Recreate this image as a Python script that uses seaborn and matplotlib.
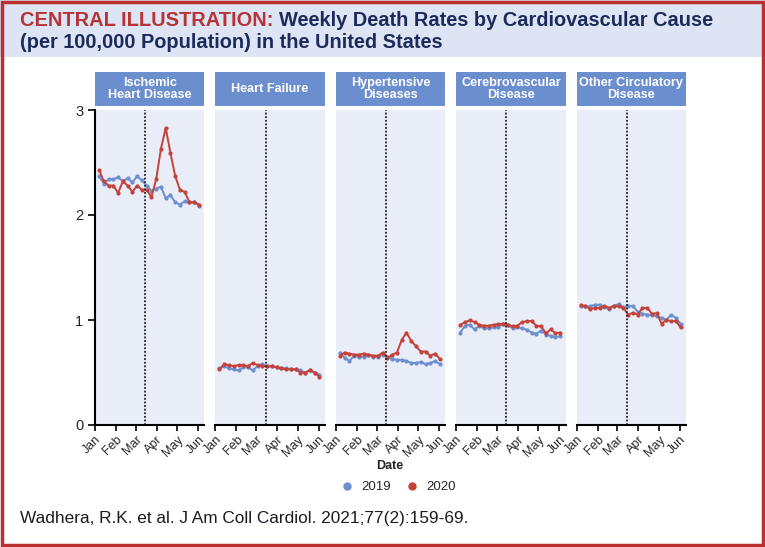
import pandas as pd
import seaborn as sns
import matplotlib.pyplot as plt
from matplotlib.patches import Rectangle
import numpy as np

# weekly death rates per 100,000
weeks = pd.date_range('2020-01-07', periods=22, freq='7D')
causes = ['Ischemic\nHeart Disease', 'Heart Failure', 'Hypertensive\nDiseases',
          'Cerebrovascular\nDisease', 'Other Circulatory\nDisease']

ihd_2019 = [2.37, 2.30, 2.34, 2.34, 2.36, 2.32, 2.35, 2.31, 2.37, 2.33, 2.28,
            2.23, 2.25, 2.27, 2.16, 2.19, 2.12, 2.10, 2.13, 2.12, 2.12, 2.09]
ihd_2020 = [2.43, 2.32, 2.28, 2.28, 2.21, 2.32, 2.28, 2.22, 2.28, 2.24, 2.24,
            2.17, 2.34, 2.63, 2.83, 2.59, 2.37, 2.24, 2.22, 2.12, 2.12, 2.10]
hf_2019 = [0.54, 0.56, 0.54, 0.53, 0.52, 0.55, 0.55, 0.52, 0.56, 0.58, 0.56,
           0.56, 0.55, 0.54, 0.54, 0.53, 0.53, 0.52, 0.50, 0.52, 0.50, 0.48]
hf_2020 = [0.53, 0.58, 0.57, 0.56, 0.57, 0.57, 0.56, 0.59, 0.57, 0.56, 0.56,
           0.56, 0.55, 0.54, 0.53, 0.53, 0.53, 0.50, 0.50, 0.52, 0.50, 0.46]
htn_2019 = [0.69, 0.64, 0.61, 0.66, 0.65, 0.65, 0.67, 0.65, 0.65, 0.67, 0.65,
            0.63, 0.62, 0.62, 0.61, 0.59, 0.59, 0.60, 0.58, 0.59, 0.61, 0.58]
htn_2020 = [0.66, 0.69, 0.68, 0.67, 0.67, 0.68, 0.67, 0.66, 0.66, 0.69, 0.64,
            0.67, 0.69, 0.81, 0.88, 0.80, 0.75, 0.70, 0.70, 0.66, 0.68, 0.63]
cbv_2019 = [0.88, 0.945, 0.955, 0.91, 0.945, 0.92, 0.92, 0.93, 0.93, 0.965, 0.955,
            0.92, 0.93, 0.92, 0.907, 0.88, 0.87, 0.90, 0.86, 0.85, 0.84, 0.845]
cbv_2020 = [0.955, 0.98, 0.997, 0.98, 0.955, 0.945, 0.945, 0.955, 0.96, 0.965, 0.955,
            0.94, 0.945, 0.98, 0.99, 0.99, 0.945, 0.94, 0.875, 0.91, 0.875, 0.88]
oth_2019 = [1.13, 1.13, 1.13, 1.146, 1.146, 1.12, 1.105, 1.13, 1.155, 1.12, 1.137,
            1.13, 1.08, 1.06, 1.05, 1.05, 1.035, 1.02, 1.00, 1.05, 1.02, 0.965]
oth_2020 = [1.146, 1.13, 1.105, 1.115, 1.115, 1.137, 1.115, 1.137, 1.13, 1.115, 1.05,
            1.07, 1.05, 1.115, 1.115, 1.06, 1.065, 0.965, 1.00, 0.99, 0.99, 0.93]

series = {causes[0]: (ihd_2019, ihd_2020), causes[1]: (hf_2019, hf_2020),
          causes[2]: (htn_2019, htn_2020), causes[3]: (cbv_2019, cbv_2020),
          causes[4]: (oth_2019, oth_2020)}

rows = []
for c, (a, b) in series.items():
    for d, v in zip(weeks, a):
        rows.append((c, d, '2019', v))
    for d, v in zip(weeks, b):
        rows.append((c, d, '2020', v))
df = pd.DataFrame(rows, columns=['cause', 'date', 'year', 'rate'])

blue = '#6c8fd0'
red = '#c4423a'
navy = '#1c2b5c'
palette = {'2019': blue, '2020': red}
month_ticks = pd.date_range('2020-01-01', periods=6, freq='MS')
month_labels = ['Jan', 'Feb', 'Mar', 'Apr', 'May', 'Jun']

sns.set_style('white')
plt.rcParams['font.family'] = ['Liberation Sans', 'DejaVu Sans']

fig, axes = plt.subplots(1, 5, figsize=(7.65, 5.47), dpi=100, sharey=True)
fig.subplots_adjust(left=95/765, right=686/765, bottom=122/547, top=437/547, wspace=0.1)


def fit(t, width_px):
    # shrink/grow a text so that it spans about width_px
    fig.canvas.draw()
    w = t.get_window_extent().width
    t.set_fontsize(t.get_fontsize() * width_px / w)


strip_texts = []
for ax, c in zip(axes, causes):
    sub = df[df.cause == c]
    sns.lineplot(data=sub, x='date', y='rate', hue='year', palette=palette, ax=ax,
                 marker='o', markersize=3, markeredgewidth=0, linewidth=1.4, legend=False)
    ax.set_facecolor('#e9edf7')
    ax.axvline(pd.Timestamp('2020-03-15'), color='#222222', ls=(0, (1, 1)), lw=1.3)
    ax.set_xlim(pd.Timestamp('2020-01-01'), pd.Timestamp('2020-06-10'))
    ax.set_ylim(0, 3.0)
    ax.set_xticks(month_ticks)
    ax.set_xticklabels(month_labels, rotation=45, ha='right', rotation_mode='anchor', fontsize=9)
    ax.tick_params(axis='x', direction='out', length=4, width=1.2, color='black', pad=2, bottom=True)
    for s in ['top', 'right']:
        ax.spines[s].set_visible(False)
    ax.spines['bottom'].set_color('black')
    ax.spines['bottom'].set_linewidth(1.5)
    ax.set_xlabel('')
    ax.set_ylabel('')
    ax.add_patch(Rectangle((0, 1.013), 1, 0.108, transform=ax.transAxes,
                           facecolor='#6b8ecf', edgecolor='none', clip_on=False))
    strip_texts.append(ax.text(0.5, 1.067, c, transform=ax.transAxes, ha='center', va='center',
                               color='white', fontsize=10, fontweight='bold', linespacing=1.05))

for ax in axes[1:]:
    ax.spines['left'].set_visible(False)
    ax.tick_params(axis='y', left=False)
axes[0].spines['left'].set_color('black')
axes[0].spines['left'].set_linewidth(1.5)
axes[0].set_yticks([0, 1, 2, 3])
axes[0].tick_params(axis='y', direction='out', length=5, width=1.2, color='black', labelsize=10.5, left=True)

fig.text(390/765, 1 - 466/547, 'Date', ha='center', va='center', fontsize=9, fontweight='bold', color='#222222')

# legend
handles = [plt.Line2D([], [], ls='', marker='o', markersize=5, color=blue),
           plt.Line2D([], [], ls='', marker='o', markersize=5, color=red)]
fig.legend(handles, ['2019', '2020'], loc='center', bbox_to_anchor=(395/765, 1 - 487/547),
           ncol=2, frameon=False, fontsize=9.5, handletextpad=0.1, columnspacing=0.6)

# header band and border
fig.patches.append(Rectangle((0, 1 - 57/547), 1, 57/547, transform=fig.transFigure,
                             facecolor='#dde4f3', edgecolor='none', zorder=0))
fig.patches.append(Rectangle((0.002, 0.003), 0.996, 0.994, transform=fig.transFigure,
                             facecolor='none', edgecolor='#b9302f', linewidth=2.5, zorder=10))

# strip labels: size so the widest one ("Other Circulatory") spans ~104 px
fit(strip_texts[4], 104)
for t in strip_texts[:4]:
    t.set_fontsize(strip_texts[4].get_fontsize())

# title: one size for both parts, whole first line spanning x=20..716
t1 = fig.text(20/765, 1 - 21/547, 'CENTRAL ILLUSTRATION:', ha='left', va='center',
              fontsize=14, fontweight='bold', color='#b73337')
t2 = fig.text(0, 1 - 21/547, 'Weekly Death Rates by Cardiovascular Cause',
              ha='left', va='center', fontsize=14, fontweight='bold', color=navy)
t3 = fig.text(20/765, 1 - 43/547, '(per 100,000 Population) in the United States', ha='left', va='center',
              fontsize=14, fontweight='bold', color=navy)
fig.canvas.draw()
total = t1.get_window_extent().width + t2.get_window_extent().width + 6
s = 14 * 696 / total
for t in (t1, t2, t3):
    t.set_fontsize(s)
fig.canvas.draw()
t2.set_x(t1.get_window_extent().x1 / fig.bbox.width + 6/765)

foot = fig.text(20/765, 1 - 518/547, 'Wadhera, R.K. et al. J Am Coll Cardiol. 2021;77(2):159-69.',
                ha='left', va='center', fontsize=13.5, color='#1b1b24')
fit(foot, 447)

plt.savefig('out.png', dpi=100)
